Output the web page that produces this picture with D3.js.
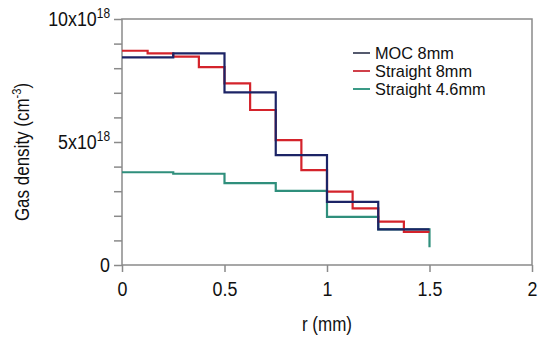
<!DOCTYPE html>
<html>
<head>
  <meta charset="utf-8">
  <title>Gas density</title>
  <script src="https://d3js.org/d3.v7.min.js"></script>
  <style>
    body, html {
      margin: 0;
      padding: 0;
      background: #fff;
    }
    body {
      font-family: "Liberation Sans", Arial, sans-serif;
    }
    .axis .domain { display: none; }
    .axis .tick line { stroke: #8a8a8a; stroke-width: 1.5; }
    .axis .tick text { fill: #111; font-size: 21px; }
    .frame { stroke: #8a8a8a; stroke-width: 1.5; fill: none; }
    .series { fill: none; stroke-width: 2.2; }
    .legend text { font-size: 17px; fill: #111; }
  </style>
</head>
<body>
  <div id="chart"></div>
  <script>
    // step edges in mm, values in units of 1e18 cm^-3
    const mocR = [0, 0.25, 0.5, 0.75, 1.0, 1.25, 1.5]
    const mocVals = [8.44, 8.6, 7.02, 4.47, 2.57, 1.45, 1.45]

    const str8R = [0, 0.125, 0.25, 0.375, 0.5, 0.625, 0.75, 0.875, 1.0, 1.125, 1.25, 1.375, 1.5]
    const str8Vals = [8.71, 8.6, 8.47, 8.04, 7.38, 6.3, 5.08, 3.86, 2.98, 2.3, 1.76, 1.35, 1.35]

    const str46R = [0, 0.25, 0.5, 0.75, 1.0, 1.25, 1.5, 1.5]
    const str46Vals = [3.77, 3.71, 3.33, 3.01, 1.96, 1.45, 1.45, 0.72]

    const seriesNames = ['MOC 8mm', 'Straight 8mm', 'Straight 4.6mm']
    const seriesColors = ['#1c2466', '#d4232b', '#2f8f7c']
    const legendColors = ['#555a6e', '#d0404a', '#3a9a86']

    const xTicks = [0, 0.5, 1, 1.5, 2]
    const xTickLabels = ['0', '0.5', '1', '1.5', '2']
    const yTicks = [0, 1, 2, 3, 4, 5, 6, 7, 8, 9, 10]
    const yLabelled = [0, 5, 10]

    // the original uses a narrow face, squeeze text horizontally
    const squeeze = 0.85

    const W = 539, H = 337
    const margin = { left: 122, right: 7, top: 19, bottom: 72 }
    const width = W - margin.left - margin.right
    const height = H - margin.top - margin.bottom

    const svg = d3.select('#chart').append('svg')
      .attr('width', W)
      .attr('height', H)

    const chart = svg.append('g')
      .attr('transform', `translate(${margin.left},${margin.top})`)

    const xScale = d3.scaleLinear().domain([0, 2]).range([0, width])
    const yScale = d3.scaleLinear().domain([0, 10]).range([height, 0])

    // frame (left, bottom, top, right)
    chart.append('rect')
      .attr('class', 'frame')
      .attr('x', 0).attr('y', 0)
      .attr('width', width).attr('height', height)

    // x axis
    const xAxis = chart.append('g')
      .attr('class', 'axis')
      .attr('transform', `translate(0,${height})`)
      .call(d3.axisBottom(xScale)
        .tickValues(xTicks)
        .tickSize(7)
        .tickPadding(9)
        .tickFormat((d, i) => xTickLabels[i]))
    xAxis.selectAll('.tick text')
      .attr('transform', `scale(${squeeze},1)`)

    // y axis
    const yAxis = chart.append('g')
      .attr('class', 'axis')
      .call(d3.axisLeft(yScale)
        .tickValues(yTicks)
        .tickSize(8)
        .tickPadding(4)
        .tickFormat(''))

    yAxis.selectAll('.tick')
      .filter(d => yLabelled.includes(d))
      .select('text')
      .attr('x', -12 / squeeze)
      .attr('transform', `scale(${squeeze},1)`)
      .each(function(d) {
        const t = d3.select(this)
        if (d === 0) {
          t.text('0')
        } else {
          t.append('tspan').text((d) + 'x10')
          t.append('tspan')
            .attr('dy', -8)
            .style('font-size', '14px')
            .text('18')
        }
      })

    // step lines
    const line = d3.line()
      .x(d => xScale(d[0]))
      .y(d => yScale(d[1]))
      .curve(d3.curveStepAfter)

    const seriesData = [
      mocR.map((r, i) => [r, mocVals[i]]),
      str8R.map((r, i) => [r, str8Vals[i]]),
      str46R.map((r, i) => [r, str46Vals[i]])
    ]

    // draw teal first, then red, then navy on top
    const order = [2, 1, 0]
    order.forEach(k => {
      chart.append('path')
        .datum(seriesData[k])
        .attr('class', 'series')
        .attr('stroke', seriesColors[k])
        .attr('d', line)
    })

    // legend
    const legend = svg.append('g')
      .attr('class', 'legend')
      .attr('transform', 'translate(353,53)')

    seriesNames.forEach((name, i) => {
      legend.append('line')
        .attr('x1', 0).attr('x2', 17)
        .attr('y1', i * 18).attr('y2', i * 18)
        .attr('stroke', legendColors[i])
        .attr('stroke-width', 2)
      legend.append('text')
        .attr('transform', `translate(22,${i * 18 + 6}) scale(0.96,1)`)
        .text(name)
    })

    // axis titles
    svg.append('text')
      .attr('transform', `translate(${margin.left + width / 2},331) scale(${squeeze},1)`)
      .attr('text-anchor', 'middle')
      .style('font-size', '20px')
      .style('fill', '#111')
      .text('r (mm)')

    const yTitle = svg.append('text')
      .attr('transform', `translate(29,152) rotate(-90) scale(${squeeze},1)`)
      .attr('text-anchor', 'middle')
      .style('font-size', '20px')
      .style('fill', '#111')
    yTitle.append('tspan').text('Gas density (cm')
    yTitle.append('tspan').attr('dy', -8).style('font-size', '13px').text('-3')
    yTitle.append('tspan').attr('dy', 8).text(')')
  </script>
</body>
</html>
